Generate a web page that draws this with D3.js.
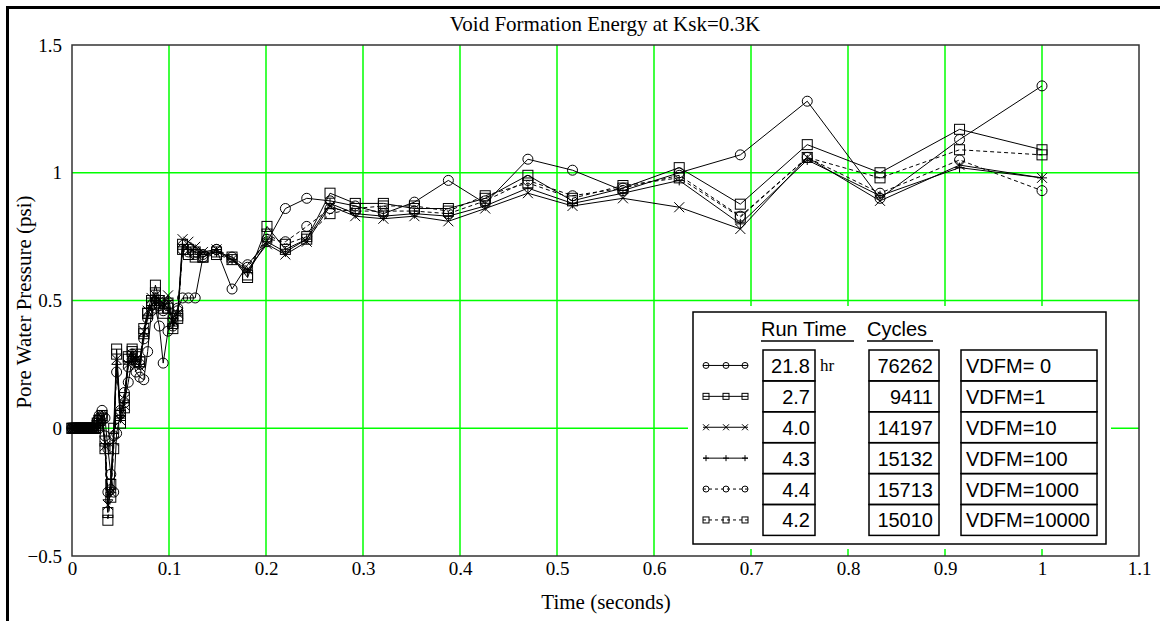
<!DOCTYPE html>
<html><head><meta charset="utf-8">
<script src="https://cdn.jsdelivr.net/npm/d3@7"></script>
<style>body{margin:0;background:#fff}svg{display:block}</style>
</head><body>
<svg id="c" width="1160" height="621"></svg>
<script>
// ---- data ----
const times = [0,0.002,0.004,0.006,0.008,0.010,0.012,0.014,0.016,0.018,0.020,0.022,0.024,0.026,0.028,
  0.031,0.034,0.037,0.040,0.043,0.046,0.050,0.054,0.058,0.062,0.066,0.070,0.074,0.078,0.082,0.086,0.090,0.094,0.099,0.104,0.109,0.114,0.120,0.127,
  0.135,0.149,0.165,0.181,0.201,0.220,0.242,0.266,0.292,0.321,0.353,0.388,0.426,0.470,0.516,0.568,0.626,0.689,0.758,0.833,0.915,1.000];
const vdfm0 = [0,0,0,0,0,0,0,0,0,0,0,0,0.01,0.03,0.05,
  0.07,0.04,-0.08,-0.18,-0.25,-0.02,0.06,0.10,0.18,0.27,0.22,0.20,0.19,0.30,0.46,0.47,0.40,0.255,0.38,0.43,0.47,0.51,0.51,0.51,
  0.67,0.70,0.545,0.64,0.73,0.86,0.90,0.89,0.87,0.84,0.885,0.97,0.88,1.053,1.01,0.93,1.00,1.07,1.28,0.90,1.13,1.34];
const vdfm1 = [0,0,0,0,0,0,0,0,0,0,0,0,0,0.02,0.03,
  0.05,-0.05,-0.33,-0.22,0.00,0.31,0.05,0.12,0.28,0.30,0.29,0.26,0.37,0.45,0.49,0.56,0.50,0.47,0.49,0.41,0.44,0.72,0.70,0.69,
  0.67,0.69,0.67,0.59,0.79,0.70,0.74,0.92,0.88,0.88,0.86,0.86,0.90,0.99,0.89,0.94,1.02,0.877,1.11,1.00,1.17,1.09];
const vdfm10 = [0,0,0,0,0,0,0,0,0,0,0,0,0,0.01,0.03,
  0.04,-0.07,-0.30,-0.25,-0.05,0.27,0.03,0.09,0.25,0.29,0.27,0.24,0.38,0.46,0.51,0.52,0.50,0.49,0.52,0.42,0.45,0.74,0.73,0.71,
  0.69,0.70,0.66,0.62,0.72,0.68,0.73,0.87,0.83,0.82,0.83,0.81,0.86,0.92,0.87,0.90,0.865,0.78,1.06,0.89,1.03,0.98];
const vdfm100 = [0,0,0,0,0,0,0,0,0,0,0,0,0,0.01,0.02,
  0.03,-0.06,-0.28,-0.20,-0.02,0.25,0.05,0.11,0.26,0.28,0.28,0.25,0.36,0.44,0.48,0.50,0.49,0.47,0.50,0.40,0.44,0.71,0.70,0.70,
  0.68,0.69,0.66,0.61,0.73,0.69,0.74,0.88,0.84,0.83,0.84,0.83,0.87,0.94,0.88,0.92,0.97,0.80,1.05,0.91,1.02,0.98];
const vdfm1000 = [0,0,0,0,0,0,0,0,0,0,0,0,0.01,0.02,0.04,
  0.05,-0.03,-0.25,-0.24,-0.03,0.22,0.07,0.14,0.24,0.29,0.26,0.25,0.35,0.43,0.48,0.51,0.48,0.46,0.48,0.40,0.46,0.70,0.69,0.68,
  0.68,0.70,0.67,0.63,0.74,0.73,0.79,0.86,0.85,0.85,0.85,0.84,0.89,0.97,0.91,0.94,0.99,0.83,1.06,0.92,1.05,0.93];
const vdfm10000 = [0,0,0,0,0,0,0,0,0,0,0,0,0,0.01,0.03,
  0.04,-0.08,-0.36,-0.27,-0.08,0.29,0.02,0.08,0.27,0.31,0.28,0.26,0.39,0.45,0.50,0.53,0.49,0.45,0.47,0.39,0.43,0.70,0.68,0.67,
  0.67,0.68,0.66,0.60,0.76,0.72,0.75,0.84,0.86,0.87,0.87,0.85,0.91,0.96,0.90,0.95,0.98,0.826,1.06,0.98,1.09,1.07];

const seriesNames = ["VDFM= 0","VDFM=1","VDFM=10","VDFM=100","VDFM=1000","VDFM=10000"];
const seriesValues = [vdfm0, vdfm1, vdfm10, vdfm100, vdfm1000, vdfm10000];
const seriesMarkers = ["circle","square","x","plus","circle","square"];
const seriesDashed = [false,false,false,false,true,true];
const runTimes = ["21.8","2.7","4.0","4.3","4.4","4.2"];
const cycles = ["76262","9411","14197","15132","15713","15010"];
const xTicks = [0,0.1,0.2,0.3,0.4,0.5,0.6,0.7,0.8,0.9,1,1.1];
const yTicks = [-0.5,0,0.5,1,1.5];
const xGrid = [0.1,0.2,0.3,0.4,0.5,0.6,0.7,0.8,0.9,1];
const yGrid = [0,0.5,1];

// ---- layout ----
const svg = d3.select("#c");
const L=72, R=1139, T=45, B=556;
const x = d3.scaleLinear().domain([0,1.1]).range([L,R]);
const y = d3.scaleLinear().domain([-0.5,1.5]).range([B,T]);
const serif = "'Liberation Serif','Times New Roman',serif";
const sans = "'Liberation Sans',Arial,sans-serif";

svg.append("rect").attr("width",1160).attr("height",621).attr("fill","#fff");
// outer frame (top & left)
svg.append("line").attr("x1",6).attr("x2",1160).attr("y1",7.5).attr("y2",7.5).attr("stroke","#000").attr("stroke-width",3);
svg.append("line").attr("x1",7.5).attr("x2",7.5).attr("y1",6).attr("y2",621).attr("stroke","#000").attr("stroke-width",3);

// grid
const g = svg.append("g");
g.selectAll(".vg").data(xGrid).enter().append("line")
  .attr("x1",d=>x(d)).attr("x2",d=>x(d)).attr("y1",T).attr("y2",B)
  .attr("stroke","#00ff00").attr("stroke-width",1.5);
g.selectAll(".hg").data(yGrid).enter().append("line")
  .attr("x1",L).attr("x2",R).attr("y1",d=>y(d)).attr("y2",d=>y(d))
  .attr("stroke","#00ff00").attr("stroke-width",1.5);

// axes labels
const xa = svg.append("g").attr("transform",`translate(0,${B})`)
  .call(d3.axisBottom(x).tickValues(xTicks).tickSize(0).tickPadding(6).tickFormat(d3.format("")));
const ya = svg.append("g").attr("transform",`translate(${L},0)`)
  .call(d3.axisLeft(y).tickValues(yTicks).tickSize(0).tickPadding(10).tickFormat(d=>d3.format("")(d)));
[xa,ya].forEach(a=>{a.select(".domain").remove();a.selectAll("text").attr("font-family",serif).attr("font-size",19).attr("fill","#000");});

// frame
svg.append("rect").attr("x",L).attr("y",T).attr("width",R-L).attr("height",B-T)
  .attr("fill","none").attr("stroke","#333").attr("stroke-width",1.5);

// title and axis titles
svg.append("text").attr("x",605).attr("y",31).attr("text-anchor","middle").attr("font-family",serif).attr("font-size",21).text("Void Formation Energy at Ksk=0.3K");
svg.append("text").attr("x",606).attr("y",609).attr("text-anchor","middle").attr("font-family",serif).attr("font-size",21).text("Time (seconds)");
svg.append("text").attr("transform","translate(31,302) rotate(-90)").attr("text-anchor","middle").attr("font-family",serif).attr("font-size",21).text("Pore Water Pressure (psi)");

// markers
function marker(sel, type, h){
  if(type==="circle") sel.append("circle").attr("r",h).attr("fill","none").attr("stroke","#000");
  else if(type==="square") sel.append("rect").attr("x",-h).attr("y",-h).attr("width",2*h).attr("height",2*h).attr("fill","none").attr("stroke","#000");
  else if(type==="x") sel.append("path").attr("d",`M${-h},${-h}L${h},${h}M${-h},${h}L${h},${-h}`).attr("stroke","#000");
  else sel.append("path").attr("d",`M${-h},0L${h},0M0,${-h}L0,${h}`).attr("stroke","#000");
}

const line = d3.line().x(d=>x(d[0])).y(d=>y(d[1]));
const plot = svg.append("g");
seriesValues.forEach((vals,i)=>{
  const pts = times.map((t,j)=>[t,vals[j]]);
  plot.append("path").attr("d",line(pts)).attr("fill","none").attr("stroke","#000").attr("stroke-width",1)
    .attr("stroke-dasharray",seriesDashed[i]?"4,3":null);
  pts.forEach(p=>{
    const mg = plot.append("g").attr("transform",`translate(${x(p[0])},${y(p[1])})`);
    marker(mg, seriesMarkers[i], 5);
  });
});

// legend
const lg = svg.append("g");
lg.append("rect").attr("x",688).attr("y",306).attr("width",423).attr("height",243).attr("fill","#fff");
lg.append("rect").attr("x",693).attr("y",312).attr("width",413).attr("height",232).attr("fill","none").attr("stroke","#000").attr("stroke-width",1.5);
lg.append("text").attr("x",761).attr("y",336).attr("font-family",sans).attr("font-size",20).text("Run Time");
lg.append("line").attr("x1",761).attr("x2",854).attr("y1",341).attr("y2",341).attr("stroke","#000").attr("stroke-width",1.5);
lg.append("text").attr("x",867).attr("y",336).attr("font-family",sans).attr("font-size",20).text("Cycles");
lg.append("line").attr("x1",867).attr("x2",933).attr("y1",341).attr("y2",341).attr("stroke","#000").attr("stroke-width",1.5);
const rowH = 30.9, row0 = 350;
seriesNames.forEach((nm,i)=>{
  const top = row0 + i*rowH, cy = top + rowH/2;
  [[763,52],[869,70],[961,136]].forEach(([bx,bw])=>{
    lg.append("rect").attr("x",bx).attr("y",top).attr("width",bw).attr("height",rowH).attr("fill","none").attr("stroke","#000").attr("stroke-width",1.5);
  });
  lg.append("text").attr("x",810).attr("y",cy+7.5).attr("text-anchor","end").attr("font-family",sans).attr("font-size",20).text(runTimes[i]);
  lg.append("text").attr("x",933).attr("y",cy+7.5).attr("text-anchor","end").attr("font-family",sans).attr("font-size",20).text(cycles[i]);
  lg.append("text").attr("x",966).attr("y",cy+7.5).attr("font-family",sans).attr("font-size",20).text(nm);
  lg.append("line").attr("x1",703).attr("x2",748).attr("y1",cy).attr("y2",cy).attr("stroke","#000")
    .attr("stroke-dasharray",seriesDashed[i]?"3,3":null);
  [706,726,745].forEach(mx=>{
    const mg = lg.append("g").attr("transform",`translate(${mx},${cy})`);
    marker(mg, seriesMarkers[i], 3);
  });
});
lg.append("text").attr("x",820).attr("y",371).attr("font-family",serif).attr("font-size",17).text("hr");
</script>
</body></html>
